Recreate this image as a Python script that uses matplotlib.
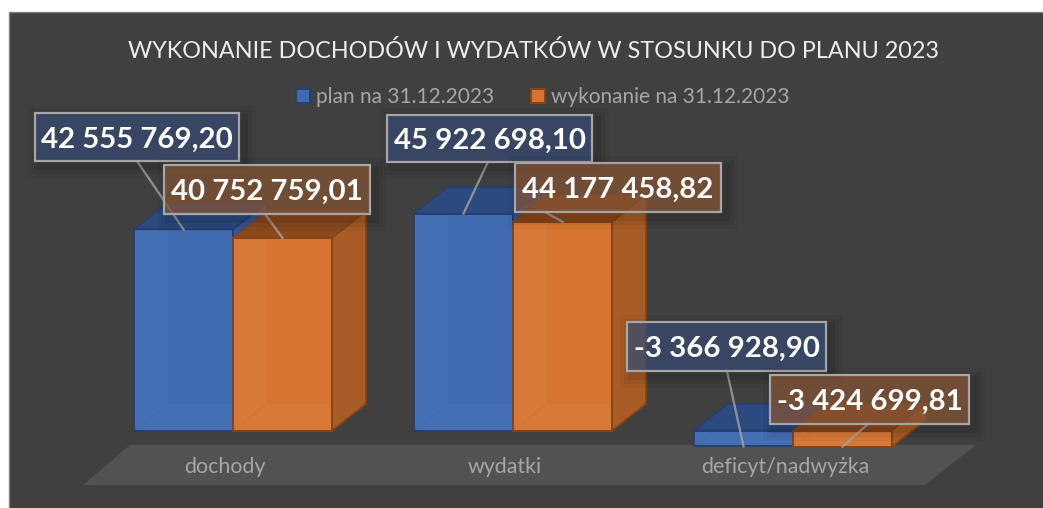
import matplotlib
matplotlib.use("Agg")
import matplotlib.pyplot as plt
from matplotlib.patches import Polygon, Rectangle
from matplotlib.lines import Line2D

plt.rcParams['font.family'] = ['Lato', 'DejaVu Sans']

# ---- data ----
categories = ["dochody", "wydatki", "deficyt/nadwyżka"]
plan = [42555769.20, 45922698.10, -3366928.90]
wykonanie = [40752759.01, 44177458.82, -3424699.81]
series_names = ["plan na 31.12.2023", "wykonanie na 31.12.2023"]
title = "WYKONANIE DOCHODÓW I WYDATKÓW W STOSUNKU DO PLANU 2023"

# ---- layout (pixels of the 1043x508 picture) ----
W, H = 1043, 508
PX_X0, PX_PER_CAT = 233.0, 280.0      # first category centre, category spacing
PX_Y0, PX_PER_UNIT = 430.5, 4.725e-6  # zero line, pixels per unit
BAR_W_PX, DX_PX, DY_PX = 99.0, 34.0, 26.5
LABEL_BOXES = [[(35, 113, 239, 161), (164, 165, 370, 214)],
               [(387, 115, 592, 162), (515, 163, 721, 212)],
               [(627, 322, 826, 371), (770, 375, 969, 424)]]
LEADERS = [[(137, 161), (265, 214)], [(488, 162), (545, 212)], [(727, 371), (868, 424)]]

BG = "#404040"
BLUE = dict(front="#416BB1", wall="#4B74B8", top="#2C4A80", side="#34578F", edge="#24406F",
            box="#3A4E76")
ORANGE = dict(front="#D67430", wall="#DC8042", top="#8A4A1C", side="#A85C26", edge="#84451A",
              box="#895738")

fig = plt.figure(figsize=(W / 100, H / 100), dpi=100, facecolor="white")
ax = fig.add_axes([0, 0, 1, 1])
ax.set_xlim(-PX_X0 / PX_PER_CAT, (W - PX_X0) / PX_PER_CAT)
ax.set_ylim((PX_Y0 - H) / PX_PER_UNIT, PX_Y0 / PX_PER_UNIT)
ax.axis("off")


def px(x, y):
    """Picture pixel -> data coordinates."""
    return (x - PX_X0) / PX_PER_CAT, (PX_Y0 - y) / PX_PER_UNIT


dxu = DX_PX / PX_PER_CAT
dyu = DY_PX / PX_PER_UNIT
bw = BAR_W_PX / PX_PER_CAT


def poly(pts, **kw):
    ax.add_patch(Polygon(pts, closed=True, **kw))


# background panel (runs off the right and bottom of the picture)
x0, y0 = px(9, 520)
x1, y1 = px(1060, 12)
ax.add_patch(Rectangle((x0, y0), x1 - x0, y1 - y0, fc=BG, ec="#7F7F7F", lw=1, zorder=0))

# floor
poly([px(130, 445), px(976, 445), px(925, 485), px(83, 485)], fc="#535252", ec="none", zorder=1)


def bar3d(xc, v, c, z):
    lo, hi = min(v, 0), max(v, 0)
    l, r = xc - bw / 2, xc + bw / 2
    e = dict(ec=c["edge"], lw=1.2, joinstyle="round")
    # inside of the box, seen through the front face
    poly([(l + dxu, lo + dyu), (r + dxu, lo + dyu), (r + dxu, hi + dyu), (l + dxu, hi + dyu)],
         fc=c["front"], ec="none", zorder=z)
    poly([(l, lo), (l + dxu, lo + dyu), (l + dxu, hi + dyu), (l, hi)],
         fc=c["wall"], ec="none", zorder=z + .01)
    poly([(l, lo), (r, lo), (r + dxu, lo + dyu), (l + dxu, lo + dyu)],
         fc=c["wall"], ec="none", zorder=z + .01)
    # outer faces
    poly([(l, hi), (r, hi), (r + dxu, hi + dyu), (l + dxu, hi + dyu)], fc=c["top"], zorder=z + .1, **e)
    poly([(r, lo), (r + dxu, lo + dyu), (r + dxu, hi + dyu), (r, hi)], fc=c["side"], zorder=z + .1, **e)
    ax.bar(xc, v, width=bw, color=c["front"], alpha=0.55, zorder=z + .2)
    ax.bar(xc, v, width=bw, fc="none", ec=c["edge"], lw=1.4, zorder=z + .3)


offset = BAR_W_PX / 2 / PX_PER_CAT
label_shift = -8 / PX_PER_CAT
for i, (p, w) in enumerate(zip(plan, wykonanie)):
    bar3d(i - offset, p, BLUE, 2 + i)
    bar3d(i + offset, w, ORANGE, 2.5 + i)
    ax.text(i + label_shift, px(0, 467)[1], categories[i], ha="center", va="center",
            fontsize=15.4, color="#A6A6A6", zorder=2)


def fmt(v):
    sign = "-" if v < 0 else ""
    s = f"{abs(v):,.2f}".replace(",", " ").replace(".", ",")
    return sign + s


for i, vals in enumerate(zip(plan, wykonanie)):
    for j, v in enumerate(vals):
        c = BLUE if j == 0 else ORANGE
        xc = i + (offset if j else -offset)
        (bx0, by0, bx1, by1) = LABEL_BOXES[i][j]
        z = 10 + i + j * .5
        # leader
        ax.add_line(Line2D([px(*LEADERS[i][j])[0], xc], [px(*LEADERS[i][j])[1], v],
                           color="#A6A6A6", lw=1.6, alpha=.8, zorder=z))
        # soft shadow
        for grow, a in [(12, .03), (8, .05), (4, .07)]:
            xa, ya = px(bx0 - grow + 5, by1 + grow + 5)
            xb, yb = px(bx1 + grow + 5, by0 - grow + 5)
            ax.add_patch(Rectangle((xa, ya), xb - xa, yb - ya, fc="black", ec="none",
                                   alpha=a, zorder=z + .05))
        xa, ya = px(bx0, by1)
        xb, yb = px(bx1, by0)
        ax.add_patch(Rectangle((xa, ya), xb - xa, yb - ya, fc=c["box"], ec="none",
                               alpha=.72, zorder=z + .1))
        ax.add_patch(Rectangle((xa, ya), xb - xa, yb - ya, fc="none", ec="#A6A6A6",
                               lw=1.6, zorder=z + .2))
        ax.text((xa + xb) / 2, (ya + yb) / 2, fmt(v), ha="center", va="center_baseline",
                fontsize=21.2, fontweight="bold", color="white", zorder=z + .3)

ax.text(px(533, 0)[0], px(0, 51)[1], title, ha="center", va="center", fontsize=16.85, color="#EDEDED")

handles = [Rectangle((0, 0), 1, 1, fc=BLUE["front"], ec=BLUE["edge"], lw=1.4),
           Rectangle((0, 0), 1, 1, fc=ORANGE["front"], ec=ORANGE["edge"], lw=1.4)]
leg = fig.legend(handles, series_names, loc="center", bbox_to_anchor=(543 / W, 1 - 97 / H),
                 ncol=2, frameon=False, fontsize=15, labelcolor="#A6A6A6",
                 handlelength=0.68, handleheight=0.68, handletextpad=0.3, columnspacing=1.75)

fig.savefig("out.png", dpi=100, facecolor="white")
